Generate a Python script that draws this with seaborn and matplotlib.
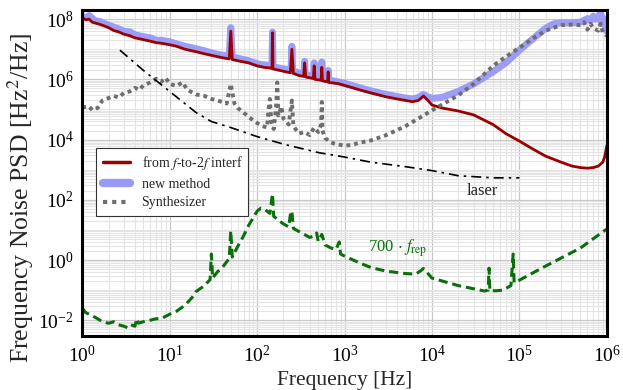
import matplotlib
matplotlib.use("Agg")
import matplotlib.pyplot as plt
import numpy as np
import pandas as pd
import seaborn as sns
from matplotlib.lines import Line2D
from matplotlib.ticker import FixedLocator, LogLocator, NullFormatter

# values, PSD stored as log10 exponents
red_freq = [1.0, 1.1, 1.2, 1.3, 1.5, 1.7, 2.0, 2.3, 2.6, 3.0, 3.5, 4.0, 5.0, 6.0, 7.0, 8.0,
            10, 12, 15, 20, 25, 30, 40, 48, 50, 52, 60, 70, 80, 100, 120, 140, 148, 150, 152,
            180, 200, 240, 250, 260, 300, 340, 350, 360, 440, 450, 460, 540, 550, 560, 640,
            650, 660, 750, 850, 1000, 1500, 2000, 3000, 4000, 5000, 6000, 7000, 8000, 9000,
            1e4, 1.3e4, 2e4, 3e4, 5e4, 7e4, 1e5, 1.5e5, 2e5, 3e5, 4e5, 5e5, 6e5, 7e5, 8e5,
            9e5, 9.5e5, 1e6]
red_exp = [8.05, 7.98, 8.0, 7.9, 7.85, 7.8, 7.72, 7.62, 7.58, 7.5, 7.45, 7.38, 7.32, 7.27,
           7.22, 7.2, 7.15, 7.1, 7.0, 6.92, 6.85, 6.8, 6.72, 6.68, 7.6, 6.66, 6.62, 6.58, 6.55,
           6.45, 6.4, 6.38, 6.37, 7.55, 6.35, 6.3, 6.27, 6.22, 7.0, 6.2, 6.13, 6.1, 6.55, 6.08,
           6.03, 6.45, 6.0, 5.97, 6.4, 5.95, 5.92, 6.25, 5.9, 5.88, 5.86, 5.8, 5.65, 5.55,
           5.42, 5.35, 5.3, 5.26, 5.3, 5.45, 5.3, 5.15, 5.05, 4.95, 4.82, 4.5, 4.2, 3.95,
           3.65, 3.45, 3.25, 3.12, 3.07, 3.05, 3.07, 3.12, 3.25, 3.45, 3.8]

blue_freq = [1.0, 1.1, 1.2, 1.4, 1.6, 1.8, 2.0, 2.5, 3.0, 3.5, 4.0, 5.0, 6.0, 7.0, 8.0, 10,
             12, 15, 20, 25, 30, 40, 48, 50, 52, 60, 70, 80, 100, 120, 148, 150, 152, 200,
             245, 250, 255, 300, 345, 350, 355, 445, 450, 455, 545, 550, 555, 645, 650, 655,
             800, 1000, 1500, 2000, 3000, 4000, 5000, 6000, 7000, 8000, 9000, 1e4, 1.3e4,
             2e4, 3e4, 5e4, 7e4, 1e5, 1.5e5, 2e5, 2.5e5, 3e5, 4e5, 5e5, 6e5, 6.5e5, 7e5,
             7.5e5, 8.5e5, 8.7e5, 9e5, 9.5e5, 1e6]
blue_exp = [8.1, 8.05, 8.12, 7.95, 7.92, 7.85, 7.8, 7.7, 7.6, 7.58, 7.48, 7.42, 7.38, 7.3,
            7.3, 7.25, 7.18, 7.1, 7.02, 6.95, 6.88, 6.8, 6.76, 7.72, 6.74, 6.7, 6.66, 6.62,
            6.52, 6.48, 6.44, 7.57, 6.42, 6.35, 6.3, 7.1, 6.28, 6.22, 6.18, 6.6, 6.16, 6.1,
            6.55, 6.08, 6.05, 6.58, 6.03, 6.0, 6.3, 5.98, 5.93, 5.87, 5.72, 5.62, 5.5, 5.43,
            5.38, 5.35, 5.4, 5.5, 5.42, 5.37, 5.4, 5.6, 5.85, 6.25, 6.55, 6.97, 7.4, 7.7,
            7.85, 7.88, 7.88, 7.9, 8.02, 7.95, 8.1, 8.0, 8.2, 7.9, 8.05, 7.8, 7.6]

synth_freq = [1.0, 1.2, 1.3, 1.5, 1.7, 2.0, 2.3, 2.6, 3.0, 3.5, 4.0, 4.5, 5.0, 6.0, 7.0, 8.0,
              9.0, 10, 12, 14, 16, 20, 25, 30, 35, 40, 45, 50, 55, 60, 70, 80, 100, 115, 130,
              135, 140, 145, 155, 165, 170, 175, 190, 200, 230, 250, 260, 300, 350, 400, 450,
              500, 540, 550, 560, 600, 700, 800, 1000, 1200, 1500, 2000, 3000, 5000, 7000,
              1e4, 2e4, 3e4, 5e4, 7e4, 1e5, 1.5e5, 2e5, 3e5, 4e5, 5e5, 5.5e5, 6e5, 6.5e5,
              7e5, 8e5, 8.5e5, 9e5, 1e6]
synth_exp = [5.07, 5.1, 4.98, 5.05, 5.3, 5.38, 5.45, 5.4, 5.55, 5.6, 5.72, 5.65, 5.8, 5.9,
             6.02, 5.92, 6.05, 5.85, 5.78, 5.9, 5.65, 5.5, 5.45, 5.35, 5.3, 5.25, 5.2, 5.85,
             5.2, 5.05, 4.9, 4.75, 4.55, 4.45, 4.4, 5.0, 5.35, 4.6, 4.35, 5.1, 5.9, 4.8, 5.1,
             4.7, 4.5, 5.3, 4.45, 4.2, 4.25, 4.15, 4.4, 4.25, 4.5, 5.25, 4.3, 4.05, 3.9, 3.85,
             3.8, 3.82, 3.9, 3.97, 4.15, 4.45, 4.7, 4.97, 5.47, 5.85, 6.45, 6.75, 7.05, 7.4,
             7.62, 7.8, 7.82, 7.8, 7.9, 7.65, 7.85, 7.7, 7.62, 7.85, 7.55, 7.45]

laser_freq = [2.7, 5, 10, 20, 30, 50, 100, 200, 500, 1000, 2000, 5000, 1e4, 2e4, 5e4, 1e5]
laser_exp = [6.97, 6.3, 5.6, 4.9, 4.6, 4.4, 4.1, 3.85, 3.57, 3.42, 3.25, 3.1, 2.97, 2.8,
             2.73, 2.73]

frep_freq = [1.0, 1.1, 1.3, 1.5, 1.7, 2.0, 2.3, 2.6, 3.0, 3.3, 3.6, 4.0, 4.2, 4.4, 5.0, 6.0,
             7.0, 8.0, 10, 12, 15, 18, 20, 25, 29, 30, 31, 35, 40, 48, 50, 52, 60, 70, 80,
             100, 110, 120, 140, 150, 155, 180, 200, 230, 240, 250, 260, 300, 400, 450, 480,
             500, 550, 600, 700, 800, 870, 900, 1000, 1500, 2000, 3000, 5000, 6500, 7500,
             8000, 9000, 1e4, 2e4, 4e4, 4.4e4, 4.5e4, 4.6e4, 5.5e4, 6.5e4, 8e4, 8.5e4,
             8.7e4, 9.5e4, 1e5, 2e5, 5e5, 1e6]
frep_exp = [-1.6, -1.75, -1.85, -1.95, -2.05, -2.1, -2.05, -2.15, -2.2, -2.25, -2.15, -2.2,
            -1.95, -2.1, -2.05, -2.0, -1.95, -1.95, -1.8, -1.7, -1.5, -1.25, -1.05, -0.85,
            -0.65, 0.2, -0.6, -0.4, -0.25, 0.05, 0.97, 0.1, 0.45, 0.8, 1.15, 1.62, 1.72,
            1.7, 1.55, 2.2, 1.45, 1.3, 1.2, 1.1, 1.5, 1.63, 1.05, 0.95, 0.75, 0.8, 0.9, 0.62,
            0.85, 0.5, 0.4, 0.35, 0.6, 0.2, 0.13, -0.1, -0.25, -0.37, -0.45, -0.47, -0.35,
            -0.28, -0.45, -0.6, -0.85, -1.03, -1.0, -0.27, -1.02, -1.02, -1.0, -0.85, 0.2,
            -0.75, -0.7, -0.67, -0.2, 0.4, 1.03]

x_ticks = [1, 1e1, 1e2, 1e3, 1e4, 1e5, 1e6]
y_ticks = [1e-2, 1, 1e2, 1e4, 1e6, 1e8]

RED = "#9a0000"
BLUE = "#9898f5"
GRAY = "#6e6e6e"
GREEN = "#0a6e0a"


def to_frame(freq, exps):
    return pd.DataFrame({"freq": freq, "psd": 10.0 ** np.asarray(exps)})


sns.set_theme(style="whitegrid")
plt.rcParams["font.family"] = ["Liberation Serif", "DejaVu Serif"]
plt.rcParams["mathtext.fontset"] = "stix"

fig = plt.figure(figsize=(6.23, 3.9), dpi=100)
ax = fig.add_axes([0.132, 0.138, 0.842, 0.836])
ax.set(xscale="log", yscale="log")

line_kw = dict(x="freq", y="psd", sort=False, estimator=None, ax=ax, legend=False)
sns.lineplot(data=to_frame(blue_freq, blue_exp), color=BLUE, lw=5, alpha=0.95, **line_kw)
sns.lineplot(data=to_frame(red_freq, red_exp), color=RED, lw=2, **line_kw)
sns.lineplot(data=to_frame(synth_freq, synth_exp), color=GRAY, lw=2.8,
             linestyle=(0, (1, 1)), **line_kw)
sns.lineplot(data=to_frame(laser_freq, laser_exp), color="black", lw=1.2,
             linestyle=(0, (6, 3, 1.5, 3)), **line_kw)
sns.lineplot(data=to_frame(frep_freq, frep_exp), color=GREEN, lw=2.2,
             linestyle=(0, (3, 1.6)), **line_kw)

ax.set_xlim(1, 1e6)
ax.set_ylim(10 ** -2.53, 10 ** 8.3)

ax.xaxis.set_major_locator(FixedLocator(x_ticks))
ax.yaxis.set_major_locator(FixedLocator(y_ticks))
ax.yaxis.set_minor_locator(LogLocator(base=10, subs=np.arange(1, 10), numticks=100))
ax.xaxis.set_minor_locator(LogLocator(base=10, subs=np.arange(2, 10), numticks=100))
ax.yaxis.set_minor_formatter(NullFormatter())
ax.xaxis.set_minor_formatter(NullFormatter())

ax.grid(which="major", color="#c8c8c8", lw=0.9)
ax.grid(which="minor", color="#e4e4e4", lw=0.8)
ax.set_facecolor("white")
for sp in ax.spines.values():
    sp.set_color("black")
    sp.set_linewidth(2.2)
ax.tick_params(which="major", direction="in", length=6, width=2, colors="black",
               labelsize=14, pad=6)
ax.tick_params(which="minor", length=0)

ax.set_xlabel("Frequency [Hz]", fontsize=15.5, labelpad=4)
ax.set_ylabel("Frequency Noise PSD [Hz$^2$/Hz]", fontsize=18.5)
ax.yaxis.set_label_coords(-0.088, 0.423)

ax.text(3.8e4, 2e2, "laser", fontsize=12, ha="center", va="center")
ax.text(4.0e3, 2.5, r"700 $\cdot$ $f_{\rm rep}$", fontsize=12, color=GREEN,
        ha="center", va="center")

handles = [
    Line2D([], [], color=RED, lw=2.5),
    Line2D([], [], color=BLUE, lw=6, solid_capstyle="round"),
    Line2D([], [], color=GRAY, lw=3, linestyle=(0, (1, 1.2))),
]
labels = [r"from $f$-to-2$f$ interf", "new method", "Synthesizer"]
leg = ax.legend(handles, labels, loc="upper left", bbox_to_anchor=(0.027, 0.577),
                borderaxespad=0, fontsize=10, frameon=True, fancybox=False, framealpha=1,
                handlelength=2.0, borderpad=0.45, labelspacing=0.4)
leg.get_frame().set_edgecolor("#333333")
leg.get_frame().set_linewidth(0.8)

fig.savefig("out.png", dpi=100)
